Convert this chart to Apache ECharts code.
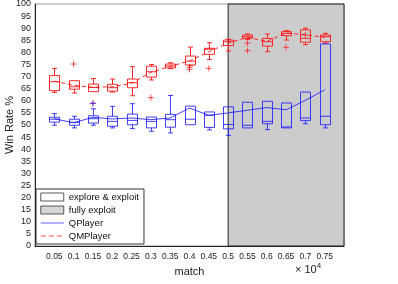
<!DOCTYPE html>
<html>
<head>
<meta charset="utf-8">
<script src="https://cdn.jsdelivr.net/npm/echarts@6/dist/echarts.min.js"></script>
<style>
html,body{margin:0;padding:0;background:#fff;}
#c{width:398px;height:284px;}
</style>
</head>
<body>
<div id="c"></div>
<script>
// x positions (×10^4 matches)
var matches = [0.05,0.1,0.15,0.2,0.25,0.3,0.35,0.4,0.45,0.5,0.55,0.6,0.65,0.7,0.75];
var yTicks = [0,5,10,15,20,25,30,35,40,45,50,55,60,65,70,75,80,85,90,95,100];
var yAxisTitle = 'Win Rate %';

// QMPlayer box stats [min, Q1, median, Q3, max]
var qmBoxes = [
  [63.5,64.2,67.9,70.4,73.4],
  [63.2,64.8,65.8,68.3,68.3],
  [63.6,63.8,65.5,66.9,69.2],
  [63.6,64.0,65.4,66.8,69.0],
  [62.1,65.4,67.5,69.0,74.1],
  [68.6,69.8,72.0,74.3,75.0],
  [73.3,73.6,74.4,75.2,75.7],
  [74.5,74.8,76.4,78.5,82.2],
  [77.1,79.2,81.3,81.7,84.0],
  [80.6,82.8,84.4,85.1,85.4],
  [85.3,85.8,86.5,87.2,87.6],
  [80.3,82.6,84.4,85.8,87.6],
  [85.1,86.9,87.9,88.6,89.0],
  [83.2,84.2,85.8,89.3,90.0],
  [83.8,84.4,86.5,87.2,87.9]
];
var qmMean = [68.1,66.4,65.6,65.8,67.2,71.8,74.2,76.5,80.2,83.9,86.2,84.6,88.0,87.3,86.2];
var qmOutlierX = [0.1,0.15,0.3,0.4,0.4,0.45,0.55,0.55,0.65,0.7];
var qmOutlierY = [75.2,59.0,61.3,73.8,73.0,73.4,83.8,80.7,82.1,87.2];

// QPlayer box stats [min, Q1, median, Q3, max]
var qBoxes = [
  [49.9,51.2,52.4,53.2,54.7],
  [48.8,49.9,51.1,52.4,53.6],
  [49.9,50.8,52.6,53.8,56.7],
  [48.8,49.5,51.5,53.6,57.7],
  [48.5,50.1,51.9,54.5,58.8],
  [47.4,48.8,51.5,53.3,53.3],
  [46.7,49.1,52.2,54.4,62.2],
  [50.0,50.1,52.4,57.8,57.8],
  [48.0,49.0,54.0,55.4,55.4],
  [45.7,48.4,50.2,57.5,57.5],
  [48.8,48.8,49.9,59.4,59.4],
  [48.1,50.5,51.5,59.8,59.8],
  [48.8,48.8,49.2,59.1,59.1],
  [50.5,51.8,52.9,63.6,63.6],
  [48.8,50.1,53.6,83.5,83.5]
];
var qMean = [52.6,50.9,53.2,52.5,52.9,52.2,52.9,57.0,54.0,55.0,56.1,57.2,56.3,60.2,64.5];
var qOutlierX = [0.15];
var qOutlierY = [58.9];

var exploitStart = 0.5, exploitEnd = 0.8;

var RED = 'rgba(255,20,20,0.9)';
var BLUE = 'rgba(30,30,255,0.85)';
var FONT = 'Liberation Sans';

function boxData(stats){
  return stats.map(function(s,i){ return [matches[i]].concat(s); });
}
function pairs(xs, ys){ return xs.map(function(x,i){ return [x, ys[i]]; }); }

function makeBoxRender(color){
  return function(params, api){
    var x = api.value(0);
    var pMin = api.coord([x, api.value(1)]);
    var pQ1 = api.coord([x, api.value(2)]);
    var pMed = api.coord([x, api.value(3)]);
    var pQ3 = api.coord([x, api.value(4)]);
    var pMax = api.coord([x, api.value(5)]);
    var cx = Math.round(pMed[0]) + 0.5;
    var hw = 5, cw = 2.5;
    var st = {stroke: color, lineWidth: 1, fill: null};
    var ch = [];
    ch.push({type:'rect', shape:{x:cx-hw, y:pQ3[1], width:hw*2, height:pQ1[1]-pQ3[1]}, style:{stroke:color, lineWidth:1, fill:'none'}});
    ch.push({type:'line', shape:{x1:cx-hw, y1:pMed[1], x2:cx+hw, y2:pMed[1]}, style:st});
    if (pMax[1] < pQ3[1] - 0.5){
      ch.push({type:'line', shape:{x1:cx, y1:pMax[1], x2:cx, y2:pQ3[1]}, style:st});
      ch.push({type:'line', shape:{x1:cx-cw, y1:pMax[1], x2:cx+cw, y2:pMax[1]}, style:st});
    }
    if (pMin[1] > pQ1[1] + 0.5){
      ch.push({type:'line', shape:{x1:cx, y1:pQ1[1], x2:cx, y2:pMin[1]}, style:st});
      ch.push({type:'line', shape:{x1:cx-cw, y1:pMin[1], x2:cx+cw, y2:pMin[1]}, style:st});
    }
    return {type:'group', children: ch};
  };
}

var plusPath = 'path://M0,5L10,5M5,0L5,10';

var chart = echarts.init(document.getElementById('c'));
chart.setOption({
  animation: false,
  backgroundColor: '#fff',
  textStyle: {fontFamily: FONT},
  grid: {left: 35, right: 54, top: 4, bottom: 38, show: true, borderColor: '#999', borderWidth: 1,
         backgroundColor: 'transparent', containLabel: false, outerBoundsMode: 'none'},
  xAxis: {
    type: 'value', min: 0, max: 0.8, interval: 0.05,
    name: 'match', nameLocation: 'middle', nameGap: 20,
    nameTextStyle: {fontSize: 11, color: '#222', fontFamily: FONT},
    axisLine: {show: true, lineStyle: {color: '#222', width: 1}},
    axisTick: {show: false},
    splitLine: {show: false},
    axisLabel: {
      fontSize: 8.5, color: '#222', margin: 6, fontFamily: FONT, hideOverlap: false,
      formatter: function(v){
        for (var i = 0; i < matches.length; i++) { if (Math.abs(matches[i]-v) < 1e-6) return String(matches[i]); }
        return '';
      }
    }
  },
  yAxis: {
    type: 'value', min: yTicks[0], max: yTicks[yTicks.length-1], interval: 5,
    axisLine: {show: true, lineStyle: {color: '#222', width: 1}},
    axisTick: {show: false},
    splitLine: {show: false},
    axisLabel: {fontSize: 9, color: '#222', margin: 4, fontFamily: FONT}
  },
  legend: {
    orient: 'vertical', left: 36, top: 189,
    padding: [3, 5, 3, 4], itemGap: 3, itemWidth: 23, itemHeight: 8,
    backgroundColor: '#fff', borderColor: '#333', borderWidth: 1, borderRadius: 0,
    selectedMode: false,
    textStyle: {fontSize: 9.5, color: '#111', fontFamily: FONT},
    data: [
      {name: 'explore & exploit', icon: 'rect', itemStyle: {color: '#fff', borderColor: '#333', borderWidth: 1}},
      {name: 'fully exploit', icon: 'rect', itemStyle: {color: '#cccccc', borderColor: '#333', borderWidth: 1}},
      {name: 'QPlayer', itemStyle: {opacity: 0}, lineStyle: {color: 'rgba(80,80,255,0.6)', width: 1.5}},
      {name: 'QMPlayer', itemStyle: {opacity: 0}, lineStyle: {color: 'rgba(255,60,60,0.6)', width: 1.5, type: [5,3]}}
    ]
  },
  graphic: [{
    type: 'text', left: 295, top: 262, z: 10,
    style: {
      text: '× 10{s|4}', fontSize: 11, fill: '#222', fontFamily: FONT,
      rich: {s: {fontSize: 8, verticalAlign: 'top', padding: [0,0,7,0], fill: '#222', fontFamily: FONT}}
    }
  }, {
    type: 'text', x: 10, y: 125, rotation: Math.PI / 2, z: 10,
    style: {text: yAxisTitle, fontSize: 11, fill: '#222', fontFamily: FONT, align: 'center', verticalAlign: 'middle'}
  }],
  series: [
    {
      name: 'explore & exploit', type: 'scatter', data: [], z: 0
    },
    {
      name: 'fully exploit', type: 'scatter', data: [], z: 0,
      markArea: {
        silent: true,
        itemStyle: {color: '#cccccc', borderColor: '#222', borderWidth: 1},
        data: [[{xAxis: exploitStart, yAxis: yTicks[0]}, {xAxis: exploitEnd, yAxis: yTicks[yTicks.length-1]}]]
      }
    },
    {
      name: 'QMPlayer boxes', type: 'custom', z: 3,
      renderItem: makeBoxRender(RED),
      encode: {x: 0, y: [1,2,3,4,5]},
      data: boxData(qmBoxes)
    },
    {
      name: 'QPlayer boxes', type: 'custom', z: 3,
      renderItem: makeBoxRender(BLUE),
      encode: {x: 0, y: [1,2,3,4,5]},
      data: boxData(qBoxes)
    },
    {
      name: 'QMPlayer outliers', type: 'scatter', z: 4, symbol: plusPath, symbolSize: 6,
      itemStyle: {color: 'none', borderColor: RED, borderWidth: 1},
      data: pairs(qmOutlierX, qmOutlierY)
    },
    {
      name: 'QPlayer outliers', type: 'scatter', z: 4, symbol: plusPath, symbolSize: 6,
      itemStyle: {color: 'none', borderColor: BLUE, borderWidth: 1},
      data: pairs(qOutlierX, qOutlierY)
    },
    {
      name: 'QPlayer', type: 'line', z: 5, symbol: 'none', color: BLUE,
      lineStyle: {color: BLUE, width: 1},
      data: pairs(matches, qMean)
    },
    {
      name: 'QMPlayer', type: 'line', z: 5, symbol: 'none', color: RED,
      lineStyle: {color: RED, width: 1, type: [4,3]},
      data: pairs(matches, qmMean)
    }
  ]
});
</script>
</body>
</html>
